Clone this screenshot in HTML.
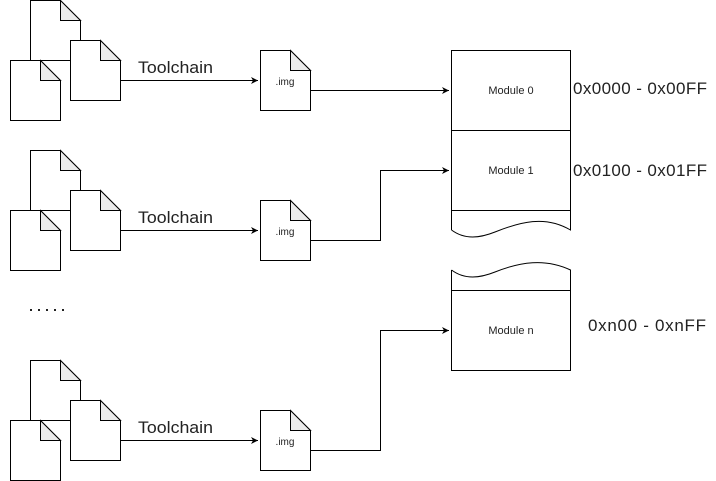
<!DOCTYPE html>
<html><head><meta charset="utf-8"><style>html,body{margin:0;padding:0;background:#fff}svg{display:block}</style></head>
<body>
<svg width="716" height="481" viewBox="0 0 716 481" xmlns="http://www.w3.org/2000/svg" font-family="Liberation Sans, Arial, sans-serif">
<defs>
<g id="doc"><path d="M0.5 0.5 H30.5 L50.5 20.5 V60.5 H0.5 Z" fill="#fff" stroke="#000"/><path d="M30.5 0.5 V20.5 H50.5 Z" fill="#ececec" stroke="#000"/></g>
<marker id="ar" markerWidth="8" markerHeight="8" refX="7" refY="4" orient="auto" markerUnits="userSpaceOnUse"><path d="M0 0.5 L7 4 L0 7.5 L2 4 Z" fill="#000"/></marker>
<g id="grp">
<use href="#doc" x="30" y="0"/>
<use href="#doc" x="70" y="40"/>
<use href="#doc" x="10" y="60"/>
<line x1="120.5" y1="80.5" x2="258" y2="80.5" stroke="#000" marker-end="url(#ar)"/>
<text x="138" y="73" font-size="17" textLength="75" lengthAdjust="spacingAndGlyphs" fill="#222">Toolchain</text>
<use href="#doc" x="260" y="50"/>
<text x="285" y="85" font-size="10" text-anchor="middle" fill="#222">.img</text>
</g>
</defs>
<use href="#grp" x="0" y="0"/>
<use href="#grp" x="0" y="150"/>
<use href="#grp" x="0" y="360"/>
<g fill="none" stroke="#000">
<polyline points="310.5,90.5 449,90.5" marker-end="url(#ar)"/>
<polyline points="310.5,240.5 380.5,240.5 380.5,170.5 449,170.5" marker-end="url(#ar)"/>
<polyline points="310.5,450.5 380.5,450.5 380.5,330.5 449,330.5" marker-end="url(#ar)"/>
<path d="M451.5 230 V50.5 H570.5 V230 C545 215 520 222 495 232 C480 238 465 240 451.5 230" fill="#fff"/>
<line x1="451.5" y1="130.5" x2="570.5" y2="130.5"/>
<line x1="451.5" y1="210.5" x2="570.5" y2="210.5"/>
<path d="M451.5 270 V370.5 H570.5 V270 C545 258 520 262 495 272 C480 278 465 280 451.5 270" fill="#fff"/>
<line x1="451.5" y1="290.5" x2="570.5" y2="290.5"/>
</g>
<g font-size="11" fill="#222" text-anchor="middle">
<text x="511" y="94">Module 0</text>
<text x="511" y="174">Module 1</text>
<text x="511" y="334">Module n</text>
</g>
<g font-size="17" fill="#222" lengthAdjust="spacingAndGlyphs">
<text x="573" y="94" textLength="134">0x0000 - 0x00FF</text>
<text x="573" y="176" textLength="134">0x0100 - 0x01FF</text>
<text x="588" y="331" textLength="118">0xn00 - 0xnFF</text>
</g>
<g fill="#222"><rect x="30" y="309" width="2" height="2"/><rect x="38" y="309" width="2" height="2"/><rect x="46" y="309" width="2" height="2"/><rect x="54" y="309" width="2" height="2"/><rect x="62" y="309" width="2" height="2"/></g>
</svg>
</body></html>
